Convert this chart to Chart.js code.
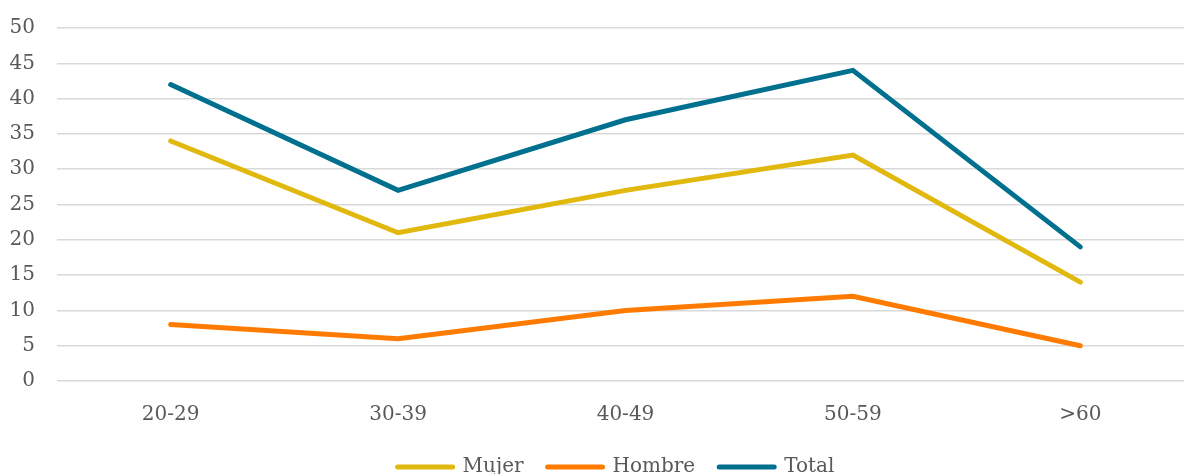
<!DOCTYPE html>
<html>
<head>
<meta charset="utf-8">
<script src="https://cdn.jsdelivr.net/npm/chart.js@4"></script>
<style>
  html, body { margin: 0; padding: 0; overflow: hidden; background: #ffffff; }
  #wrap { width: 1194px; height: 501px; margin-top: -6px; }
</style>
</head>
<body>
<div id="wrap"><canvas id="c" width="1194" height="501"></canvas></div>
<script>
const categories = ["20-29", "30-39", "40-49", "50-59", ">60"];
const mujer  = [34, 21, 27, 32, 14];
const hombre = [8, 6, 10, 12, 5];
const total  = [42, 27, 37, 44, 19];
const seriesNames = ["Mujer", "Hombre", "Total"];
const seriesColors = ["#E1B80E", "#FF7B00", "#00708F"];

const FONT = "'DejaVu Serif', serif";
const TEXT = "#595959";

function ds(label, data, color) {
  return {
    label: label, data: data,
    borderColor: color, backgroundColor: color,
    borderWidth: 5, pointRadius: 0, pointHoverRadius: 0,
    tension: 0, borderCapStyle: 'round', borderJoinStyle: 'miter', fill: false
  };
}

// shift the legend to match the reference placement
const legendShift = {
  id: 'legendShift',
  beforeDraw(chart) {
    const lg = chart.legend;
    if (!lg || lg._shifted) return;
    lg.left += 38;
    lg.top -= 8;
    lg.bottom -= 8;
    lg._shifted = true;
  }
};

new Chart(document.getElementById('c'), {
  type: 'line',
  data: {
    labels: categories,
    datasets: [
      ds(seriesNames[0], mujer, seriesColors[0]),
      ds(seriesNames[1], hombre, seriesColors[1]),
      ds(seriesNames[2], total, seriesColors[2])
    ]
  },
  plugins: [legendShift],
  options: {
    responsive: false,
    animation: false,
    devicePixelRatio: 1,
    layout: { padding: { left: 0, right: 0, top: 4, bottom: 0 } },
    plugins: {
      tooltip: { enabled: false },
      legend: {
        position: 'bottom',
        labels: {
          color: TEXT,
          font: { family: FONT, size: 20 },
          usePointStyle: true,
          pointStyleWidth: 55,
          padding: 24,
          generateLabels: (chart) => chart.data.datasets.map((d, i) => ({
            text: d.label,
            fillStyle: d.borderColor,
            strokeStyle: d.borderColor,
            lineWidth: 5,
            lineCap: 'round',
            pointStyle: 'line',
            fontColor: TEXT,
            hidden: false,
            datasetIndex: i
          }))
        }
      }
    },
    scales: {
      x: {
        offset: true,
        grid: { display: false, offset: true },
        border: { display: false },
        ticks: { color: TEXT, font: { family: FONT, size: 20 }, padding: 14 }
      },
      y: {
        min: 0, max: 50,
        afterFit: (s) => { s.width = 57; },
        grid: { color: '#d9d9d9', lineWidth: 1.5, drawTicks: false },
        border: { display: false },
        ticks: { stepSize: 5, color: TEXT, font: { family: FONT, size: 20 }, padding: 22 }
      }
    }
  }
});
</script>
</body>
</html>
